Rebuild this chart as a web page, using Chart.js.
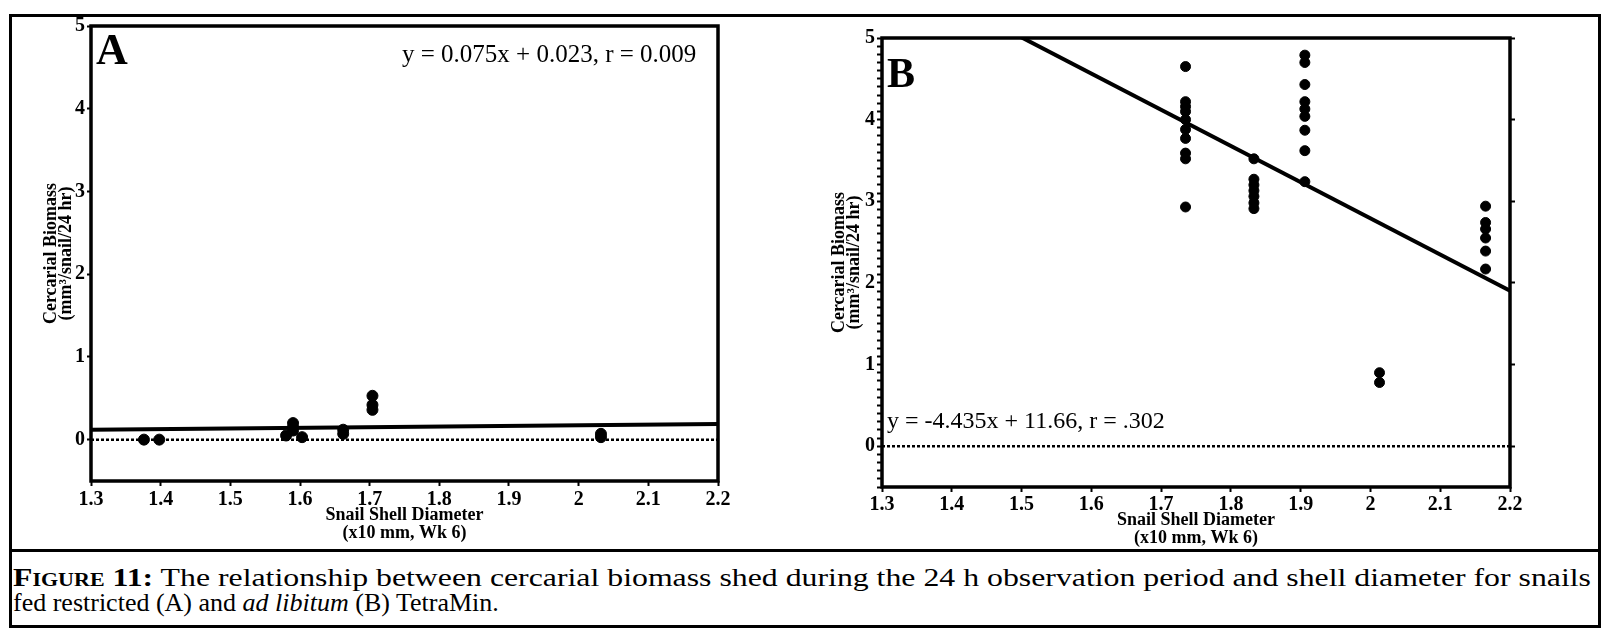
<!DOCTYPE html>
<html>
<head>
<meta charset="utf-8">
<script src="https://cdn.jsdelivr.net/npm/chart.js@4"></script>
<style>
  body { margin: 0; background: #fff; font-family: "Liberation Serif", "Times New Roman", serif; }
  #page { position: relative; width: 1606px; height: 631px; overflow: hidden; }
  .box { position: absolute; box-sizing: border-box; border: 3px solid #000; }
  canvas { position: absolute; top: 0; }
  .tag { position: absolute; font-weight: bold; line-height: 1; }
  .eq { position: absolute; font-size: 25px; line-height: 1; white-space: nowrap; }
  #caption { position: absolute; left: 13px; top: 565px; font-size: 26px; line-height: 25px; white-space: nowrap; }
  #capLine1 { display: inline-block; transform-origin: 0 0; }
  #caption .fig { font-weight: bold; font-variant: small-caps; }
</style>
</head>
<body>
<div id="page">
  <div class="box" style="left:9px; top:14px; width:1592px; height:538px;"></div>
  <div class="box" style="left:9px; top:549px; width:1592px; height:79px;"></div>

  <canvas id="chartA" width="780" height="551" style="left:0px;"></canvas>
  <canvas id="chartB" width="780" height="557" style="left:790px;"></canvas>

  <div class="tag" style="left:96px; top:28px; font-size:44px;">A</div>
  <div class="eq" style="left:402px; top:41px;">y = 0.075x + 0.023, r = 0.009</div>
  <div class="tag" style="left:887px; top:52px; font-size:42px;">B</div>
  <div class="eq" style="left:887px; top:408px; font-size:24px;">y = -4.435x + 11.66, r = .302</div>

  <div id="caption">
    <div><span id="capLine1"><span class="fig">Figure 11:</span> The relationship between cercarial biomass shed during the 24 h observation period and shell diameter for snails</span></div>
    <div>fed restricted (A) and <i>ad libitum</i> (B) TetraMin.</div>
  </div>
</div>

<script>
// shared axis ticks
const xTicks = [1.3, 1.4, 1.5, 1.6, 1.7, 1.8, 1.9, 2.0, 2.1, 2.2];
const xTickLabels = ['1.3', '1.4', '1.5', '1.6', '1.7', '1.8', '1.9', '2', '2.1', '2.2'];
const yTicks = [0, 1, 2, 3, 4, 5];
const xMin = 1.3, xMax = 2.2, yMin = -0.5, yMax = 5;

// A: restricted TetraMin
const shellA   = [1.376, 1.398, 1.58, 1.59, 1.59, 1.59, 1.603, 1.662, 1.662, 1.704, 1.704, 1.704, 2.032, 2.032];
const biomassA = [0.00, 0.00, 0.05, 0.11, 0.15, 0.20, 0.03, 0.12, 0.07, 0.36, 0.42, 0.53, 0.07, 0.03];
const slopeA = 0.075, interceptA = 0.023;

// B: ad libitum TetraMin
const shellB = [1.735, 1.735, 1.735, 1.735, 1.735, 1.735, 1.735, 1.735, 1.735, 1.735,
                1.833, 1.833, 1.833, 1.833, 1.833, 1.833, 1.833,
                1.906, 1.906, 1.906, 1.906, 1.906, 1.906, 1.906, 1.906, 1.906,
                2.013, 2.013,
                2.165, 2.165, 2.165, 2.165, 2.165, 2.165];
const biomassB = [4.65, 4.22, 4.16, 4.10, 4.00, 3.88, 3.77, 3.59, 3.52, 2.93,
                  3.52, 3.27, 3.20, 3.13, 3.06, 2.98, 2.91,
                  4.79, 4.70, 4.43, 4.22, 4.13, 4.04, 3.87, 3.62, 3.24,
                  0.90, 0.78,
                  2.94, 2.74, 2.66, 2.55, 2.39, 2.17];
const slopeB = -4.435, interceptB = 11.66;

const serif = '"Liberation Serif", "Times New Roman", serif';

// first caption line runs the full width of the box
const line1 = document.getElementById('capLine1');
line1.style.transform = 'scaleX(' + (1578 / line1.getBoundingClientRect().width) + ')';

// outline of the plotting area
const plotFrame = {
  id: 'plotFrame',
  afterDraw(chart) {
    const a = chart.chartArea, ctx = chart.ctx;
    ctx.save();
    ctx.strokeStyle = '#000';
    ctx.lineWidth = 3.5;
    ctx.strokeRect(a.left, a.top, a.right - a.left, a.bottom - a.top);
    ctx.restore();
  }
};

function points(xs, ys) {
  return xs.map((x, i) => ({ x: x, y: ys[i] }));
}

function fitLine(m, b) {
  return [{ x: xMin, y: m * xMin + b }, { x: xMax, y: m * xMax + b }];
}

function makeChart(id, xs, ys, m, b, opts) {
  const ctx = document.getElementById(id).getContext('2d');
  const scales = {
    x: {
      type: 'linear', min: xMin, max: xMax,
      afterBuildTicks: s => { s.ticks = xTicks.map(v => ({ value: v })); },
      afterFit: s => { s.height = 70; },
      grid: { drawOnChartArea: false, drawTicks: true, tickLength: 5, tickWidth: 2, tickColor: '#000' },
      border: { display: false },
      ticks: {
        autoSkip: false, maxRotation: 0, padding: opts.xLabelPad, color: '#000',
        font: { family: serif, size: 20, weight: 'bold' },
        callback: (v, i) => xTickLabels[i]
      },
      title: {
        display: true, text: ['Snail Shell Diameter', '(x10 mm, Wk 6)'], color: '#000',
        font: { family: serif, size: 18, weight: 'bold', lineHeight: '18px' },
        padding: { top: 0, bottom: opts.xTitlePad }
      }
    },
    y: {
      type: 'linear', min: yMin, max: yMax,
      afterBuildTicks: s => { s.ticks = opts.yTickValues.map(v => ({ value: v })); },
      afterFit: s => { s.width = opts.yWidth; },
      grid: { drawOnChartArea: false, drawTicks: true, tickLength: opts.yTickLen, tickWidth: 2, tickColor: '#000' },
      border: { display: false },
      ticks: {
        autoSkip: false, padding: 2, color: '#000',
        font: { family: serif, size: 20, weight: 'bold' },
        callback: v => {
          const hit = yTicks.find(t => Math.abs(t - v) < 1e-6);
          return hit === undefined ? '' : String(hit);
        }
      },
      title: {
        display: true, text: ['Cercarial Biomass', '(mm\u00B3/snail/24 hr)'], color: '#000',
        font: { family: serif, size: 18, weight: 'bold', lineHeight: '15px' },
        padding: { top: opts.yTitlePad, bottom: 0 }
      }
    }
  };
  if (opts.rightAxis) {
    scales.y2 = {
      type: 'linear', position: 'right', min: yMin, max: yMax,
      afterBuildTicks: s => { s.ticks = yTicks.map(v => ({ value: v })); },
      afterFit: s => { s.width = 10; },
      grid: { drawOnChartArea: false, drawTicks: true, tickLength: 5, tickWidth: 2, tickColor: '#000' },
      border: { display: false },
      ticks: { padding: 0, callback: () => '' }
    };
  }

  return new Chart(ctx, {
    type: 'scatter',
    data: {
      datasets: [
        {
          label: 'zero',
          type: 'line',
          data: [{ x: xMin, y: 0 }, { x: xMax, y: 0 }],
          borderColor: '#000', borderWidth: 2.5, borderDash: [3, 2],
          pointRadius: 0
        },
        {
          label: 'fit',
          type: 'line',
          data: fitLine(m, b),
          borderColor: '#000', borderWidth: 4,
          pointRadius: 0
        },
        {
          label: 'snails',
          data: points(xs, ys),
          backgroundColor: '#000', borderColor: '#000',
          pointRadius: opts.dot, pointHoverRadius: opts.dot
        }
      ]
    },
    options: {
      responsive: false,
      animation: false,
      layout: { padding: opts.pad },
      plugins: { legend: { display: false }, tooltip: { enabled: false } },
      scales: scales
    },
    plugins: [plotFrame]
  });
}

// panel A
makeChart('chartA', shellA, biomassA, slopeA, interceptA, {
  yWidth: 91, yTickLen: 4, yTitlePad: 44, xTitlePad: 9, xLabelPad: 2, dot: 5.5,
  yTickValues: yTicks, rightAxis: false,
  pad: { left: 0, top: 26, right: 62, bottom: 0 }
});

// panel B: minor ticks every 0.1 on the left axis
const minorB = [];
for (let k = -5; k <= 50; k++) minorB.push(k / 10);
makeChart('chartB', shellB, biomassB, slopeB, interceptB, {
  yWidth: 92, yTickLen: 5, yTitlePad: 42, xTitlePad: 10, xLabelPad: 1, dot: 5,
  yTickValues: minorB, rightAxis: true,
  pad: { left: 0, top: 38, right: 50, bottom: 0 }
});
</script>
</body>
</html>
